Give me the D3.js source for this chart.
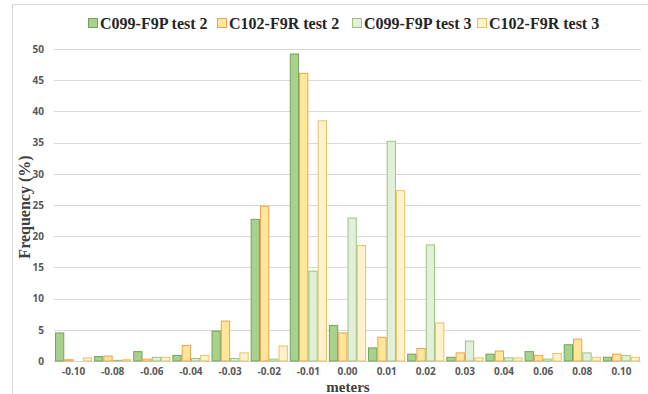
<!DOCTYPE html>
<html>
<head>
<meta charset="utf-8">
<script src="https://cdn.jsdelivr.net/npm/d3@7"></script>
<style>
  body { margin: 0; background: #fff; }
  svg { display: block; }
</style>
</head>
<body>
<svg id="chart" width="648" height="394"></svg>
<script>
// categories (meters)
var categories = ["-0.10", "-0.08", "-0.06", "-0.04", "-0.03", "-0.02", "-0.01",
  "0.00", "0.01", "0.02", "0.03", "0.04", "0.06", "0.08", "0.10"];

var seriesNames = ["C099-F9P test 2", "C102-F9R test 2", "C099-F9P test 3", "C102-F9R test 3"];

// frequency (%) per series
var c099Test2 = [4.5, 0.7, 1.5, 0.9, 4.8, 22.7, 49.2, 5.7, 2.1, 1.1, 0.6, 1.1, 1.5, 2.6, 0.6];
var c102Test2 = [0.2, 0.8, 0.3, 2.5, 6.4, 24.8, 46.1, 4.5, 3.8, 2.0, 1.3, 1.6, 0.9, 3.5, 1.1];
var c099Test3 = [0.0, 0.1, 0.6, 0.4, 0.4, 0.3, 14.4, 22.9, 35.2, 18.6, 3.2, 0.5, 0.3, 1.3, 0.9];
var c102Test3 = [0.5, 0.2, 0.6, 0.9, 1.3, 2.4, 38.5, 18.5, 27.3, 6.1, 0.5, 0.5, 1.2, 0.6, 0.6];

var yTicks = [0, 5, 10, 15, 20, 25, 30, 35, 40, 45, 50];

var seriesValues = [c099Test2, c102Test2, c099Test3, c102Test3];
var fills   = ["#a9d18e", "#ffe699", "#e2efd9", "#fff2cc"];
var strokes = ["#74a356", "#eda255", "#9cc47f", "#e3c464"];

var svg = d3.select("#chart"),
    width = +svg.attr("width"),
    height = +svg.attr("height");

var margin = {top: 49, right: 7, bottom: 33, left: 54};

// chart frame
svg.append("line").attr("x1", 12).attr("x2", width).attr("y1", 4.5).attr("y2", 4.5)
  .attr("stroke", "#d9d9d9");
svg.append("line").attr("x1", 12.5).attr("x2", 12.5).attr("y1", 4).attr("y2", height)
  .attr("stroke", "#d9d9d9");

var x = d3.scaleBand()
  .domain(categories)
  .range([margin.left, width - margin.right])
  .paddingInner(0.05)
  .paddingOuter(0.025);

var xs = d3.scaleBand()
  .domain(seriesNames)
  .range([0, x.bandwidth()]);

var y = d3.scaleLinear()
  .domain([0, 50])
  .range([height - margin.bottom, margin.top]);

// gridlines
svg.append("g")
  .selectAll("line")
  .data(yTicks)
  .enter().append("line")
    .attr("x1", margin.left)
    .attr("x2", width - margin.right)
    .attr("y1", d => Math.round(y(d)) + 0.5)
    .attr("y2", d => Math.round(y(d)) + 0.5)
    .attr("stroke", "#d9d9d9")
    .attr("stroke-width", 1);

// y axis labels
var yAxis = svg.append("g")
  .attr("transform", "translate(" + margin.left + ",0)")
  .call(d3.axisLeft(y).tickValues(yTicks).tickSize(0).tickPadding(10));
yAxis.select(".domain").remove();
yAxis.selectAll("text")
  .attr("font-family", "'Open Sans', sans-serif")
  .attr("font-size", "10px")
  .attr("font-weight", "bold")
  .attr("fill", "#595959");

// x axis labels
var xAxis = svg.append("g")
  .attr("transform", "translate(0," + (height - margin.bottom) + ")")
  .call(d3.axisBottom(x).tickSize(0).tickPadding(7));
xAxis.select(".domain").remove();
xAxis.selectAll("text")
  .attr("font-family", "'Open Sans', sans-serif")
  .attr("font-size", "10px")
  .attr("font-weight", "bold")
  .attr("fill", "#595959");

// bars
var groups = svg.append("g")
  .selectAll("g")
  .data(categories)
  .enter().append("g")
    .attr("transform", d => "translate(" + x(d) + ",0)");

groups.selectAll("rect")
  .data((c, i) => seriesNames.map((s, j) => ({series: s, idx: j, value: seriesValues[j][i]})))
  .enter().append("rect")
    .filter(d => d.value > 0)
    .attr("x", d => xs(d.series) + 0.5)
    .attr("width", xs.bandwidth() - 1)
    .attr("y", d => y(d.value))
    .attr("height", d => y(0) - y(d.value))
    .attr("fill", d => fills[d.idx])
    .attr("stroke", d => strokes[d.idx])
    .attr("stroke-width", 1);

// axis titles
svg.append("text")
  .attr("x", 348)
  .attr("y", 392)
  .attr("text-anchor", "middle")
  .attr("font-family", "'Liberation Serif', serif")
  .attr("font-weight", "bold")
  .attr("font-size", "15px")
  .attr("fill", "#404040")
  .text("meters");

svg.append("text")
  .attr("transform", "translate(30,207) rotate(-90)")
  .attr("text-anchor", "middle")
  .attr("font-family", "'Liberation Serif', serif")
  .attr("font-weight", "bold")
  .attr("font-size", "16px")
  .attr("fill", "#404040")
  .text("Frequency (%)");

// legend
var legendX = [88, 217, 352, 477];
var legend = svg.append("g")
  .selectAll("g")
  .data(seriesNames)
  .enter().append("g")
    .attr("transform", (d, i) => "translate(" + legendX[i] + ",0)");

legend.append("rect")
  .attr("x", 0.5)
  .attr("y", 18.5)
  .attr("width", 9)
  .attr("height", 9)
  .attr("fill", (d, i) => fills[i])
  .attr("stroke", (d, i) => strokes[i]);

legend.append("text")
  .attr("x", 12)
  .attr("y", 29)
  .attr("font-family", "'Liberation Serif', serif")
  .attr("font-weight", "bold")
  .attr("font-size", "16px")
  .attr("fill", "#262626")
  .text(d => d);
</script>
</body>
</html>
